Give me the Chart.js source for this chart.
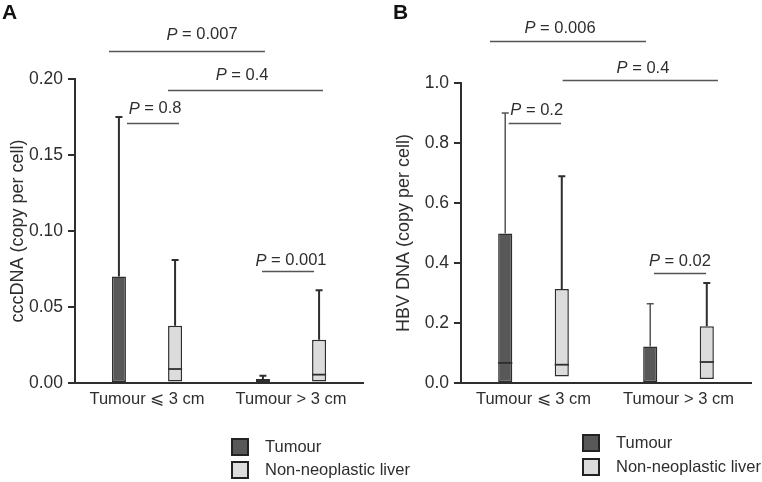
<!DOCTYPE html>
<html><head><meta charset="utf-8">
<script src="https://cdn.jsdelivr.net/npm/chart.js@4.4.1/dist/chart.umd.min.js"></script>
<style>
body{margin:0;background:#fff;}
#wrap{position:relative;width:762px;height:482px;overflow:hidden;}
canvas{position:absolute;top:0;}
</style>
</head><body>
<div id="wrap">
<canvas id="cA" width="430" height="482" style="left:0"></canvas>
<canvas id="cB" width="381" height="482" style="left:381px"></canvas>
</div>
<script>
// ---------- data ----------
const categories = ['Tumour \u2A7D 3 cm', 'Tumour > 3 cm'];
const seriesNames = ['Tumour', 'Non-neoplastic liver'];

// Panel A: cccDNA (copy per cell)  box = [q1, q3]
const aTumourBox = [[0, 0.070], [0, 0.0026]];
const aTumourMedian = [null, null];
const aTumourMax = [0.175, 0.0048];
const aLiverBox = [[0.001, 0.0377], [0.001, 0.0285]];
const aLiverMedian = [0.0092, 0.0055];
const aLiverMax = [0.081, 0.061];
const aTicks = [0, 0.05, 0.10, 0.15, 0.20];
const aPValues = ['0.007', '0.4', '0.8', '0.001'];
// comparison brackets: [fromCategory, toCategory, value] and label anchor [category, value]
const aBrackets = [[-0.264, 0.819, 0.2184], [0.146, 1.222, 0.1928], [-0.139, 0.222, 0.1713], [0.799, 1.16, 0.0737]];
const aLabelAt = [[0.382, 0.229], [0.66, 0.2026], [0.056, 0.1803], [1.0, 0.0803]];

// Panel B: HBV DNA (copy per cell)
const bTumourBox = [[0, 0.498], [0, 0.122]];
const bTumourMedian = [0.067, null];
const bTumourMax = [0.90, 0.264];
const bLiverBox = [[0.022, 0.313], [0.013, 0.189]];
const bLiverMedian = [0.061, 0.070];
const bLiverMax = [0.689, 0.333];
const bTicks = [0, 0.2, 0.4, 0.6, 0.8, 1.0];
const bPValues = ['0.006', '0.4', '0.2', '0.02'];
const bBrackets = [[-0.30, 0.776, 1.139], [0.201, 1.272, 1.011], [-0.171, 0.19, 0.867], [0.831, 1.19, 0.367]];
const bLabelAt = [[0.183, 1.181], [0.755, 1.048], [0.022, 0.908], [1.01, 0.404]];

// ---------- style ----------
const FONT = '"Liberation Sans", Arial, Helvetica, sans-serif';
const INK = '#2e2e2e';
const DARK = '#585858';
const LIGHT = '#dcdcdc';

function boxPlugin(cfg) {
  return {
    id: 'boxextras',
    afterDatasetsDraw(chart) {
      const ctx = chart.ctx, y = chart.scales.y;
      ctx.save();
      chart.data.datasets.forEach((ds, i) => {
        const meta = chart.getDatasetMeta(i);
        meta.data.forEach((bar, j) => {
          const top = y.getPixelForValue(ds.data[j][1]);
          const mx = y.getPixelForValue(ds.maxes[j]);
          ctx.strokeStyle = cfg.whiskerColor[i];
          ctx.lineWidth = cfg.whiskerWidth[i];
          ctx.beginPath();
          ctx.moveTo(bar.x, top); ctx.lineTo(bar.x, mx);
          ctx.moveTo(bar.x - 3.5, mx); ctx.lineTo(bar.x + 3.5, mx);
          ctx.stroke();
          if (ds.medians[j] !== null) {
            const my = y.getPixelForValue(ds.medians[j]);
            ctx.strokeStyle = INK;
            ctx.lineWidth = 1.8;
            ctx.beginPath();
            ctx.moveTo(bar.x - bar.width / 2, my); ctx.lineTo(bar.x + bar.width / 2, my);
            ctx.stroke();
          }
        });
      });
      ctx.restore();
    },
    afterDraw(chart) {
      const ctx = chart.ctx, x = chart.scales.x, y = chart.scales.y;
      ctx.save();
      // brackets
      ctx.strokeStyle = '#555';
      ctx.lineWidth = 1.3;
      cfg.brackets.forEach((b, k) => {
        const py = Math.round(y.getPixelForValue(b[2])) + 0.5;
        ctx.beginPath();
        ctx.moveTo(x.getPixelForValue(b[0]), py);
        ctx.lineTo(x.getPixelForValue(b[1]), py);
        ctx.stroke();
        const lx = x.getPixelForValue(cfg.labelAt[k][0]);
        const ly = y.getPixelForValue(cfg.labelAt[k][1]);
        ctx.fillStyle = INK;
        ctx.textBaseline = 'middle';
        ctx.textAlign = 'left';
        ctx.font = 'italic 16.5px ' + FONT;
        const wP = ctx.measureText('P').width;
        ctx.font = '16.5px ' + FONT;
        const rest = ' = ' + cfg.pvals[k];
        const wR = ctx.measureText(rest).width;
        const x0 = lx - (wP + wR) / 2;
        ctx.font = 'italic 16.5px ' + FONT;
        ctx.fillText('P', x0, ly);
        ctx.font = '16.5px ' + FONT;
        ctx.fillText(rest, x0 + wP, ly);
      });
      // panel letter
      ctx.fillStyle = '#111';
      ctx.font = 'bold 21px ' + FONT;
      ctx.textBaseline = 'middle';
      ctx.textAlign = 'left';
      ctx.fillText(cfg.letter, cfg.letterX, 13);
      // legend
      chart.data.datasets.forEach((ds, i) => {
        const sy = cfg.legY + i * cfg.legGap;
        ctx.fillStyle = ds.backgroundColor;
        ctx.fillRect(cfg.legX, sy, 16, 16);
        ctx.strokeStyle = '#222';
        ctx.lineWidth = 2;
        ctx.strokeRect(cfg.legX, sy, 16, 16);
        ctx.fillStyle = INK;
        ctx.font = '16.5px ' + FONT;
        ctx.textBaseline = 'middle';
        ctx.fillText(ds.label, cfg.legX + 33, sy + 8.5);
      });
      ctx.restore();
    }
  };
}

function makeChart(id, tBox, tMed, tMax, lBox, lMed, lMax, ticks, dec, title, cfg) {
  return new Chart(document.getElementById(id), {
    type: 'bar',
    data: {
      labels: categories,
      datasets: [
        { label: seriesNames[0], data: tBox, medians: tMed, maxes: tMax,
          backgroundColor: DARK, borderColor: INK, borderWidth: 1.5, borderSkipped: false,
          categoryPercentage: 0.78, barPercentage: 0.25 },
        { label: seriesNames[1], data: lBox, medians: lMed, maxes: lMax,
          backgroundColor: LIGHT, borderColor: INK, borderWidth: 1.5, borderSkipped: false,
          categoryPercentage: 0.78, barPercentage: 0.25 }
      ]
    },
    options: {
      responsive: false,
      animation: false,
      layout: { padding: { left: 0, right: cfg.padRight, top: cfg.padTop, bottom: 0 } },
      plugins: { legend: { display: false }, tooltip: { enabled: false } },
      scales: {
        x: {
          grid: { display: false, drawTicks: false },
          border: { display: true, color: INK, width: 2 },
          ticks: { color: INK, font: { family: FONT, size: 16.5 }, padding: 7, maxRotation: 0 },
          afterFit: s => { s.height = 99; }
        },
        y: {
          min: ticks[0], max: ticks[ticks.length - 1],
          afterBuildTicks: s => { s.ticks = ticks.map(v => ({ value: v })); },
          grid: { display: true, drawOnChartArea: false, drawTicks: true, tickLength: 7, color: INK, lineWidth: 2 },
          border: { display: true, color: INK, width: 2 },
          ticks: { color: INK, font: { family: FONT, size: 17.5 }, padding: 5,
                   callback: v => Number(v).toFixed(dec) },
          title: { display: true, text: title, color: INK, font: { family: FONT, size: 18 }, padding: { top: cfg.titlePad, bottom: 0 } },
          afterFit: s => { s.width = cfg.yWidth; }
        }
      }
    },
    plugins: [boxPlugin(cfg)]
  });
}

makeChart('cA', aTumourBox, aTumourMedian, aTumourMax, aLiverBox, aLiverMedian, aLiverMax, aTicks, 2,
  'cccDNA (copy per cell)',
  { padRight: 67, padTop: 79, yWidth: 75, titlePad: 7, brackets: aBrackets, labelAt: aLabelAt, pvals: aPValues,
    whiskerColor: [INK, INK], whiskerWidth: [2, 2],
    letter: 'A', letterX: 2, legX: 232, legY: 439, legGap: 23 });
makeChart('cB', bTumourBox, bTumourMedian, bTumourMax, bLiverBox, bLiverMedian, bLiverMax, bTicks, 1,
  'HBV DNA (copy per cell)',
  { padRight: 11, padTop: 83, yWidth: 80, titlePad: 12, brackets: bBrackets, labelAt: bLabelAt, pvals: bPValues,
    whiskerColor: ['#555', INK], whiskerWidth: [1.5, 2],
    letter: 'B', letterX: 12, legX: 202, legY: 435, legGap: 24 });
</script>
</body></html>
